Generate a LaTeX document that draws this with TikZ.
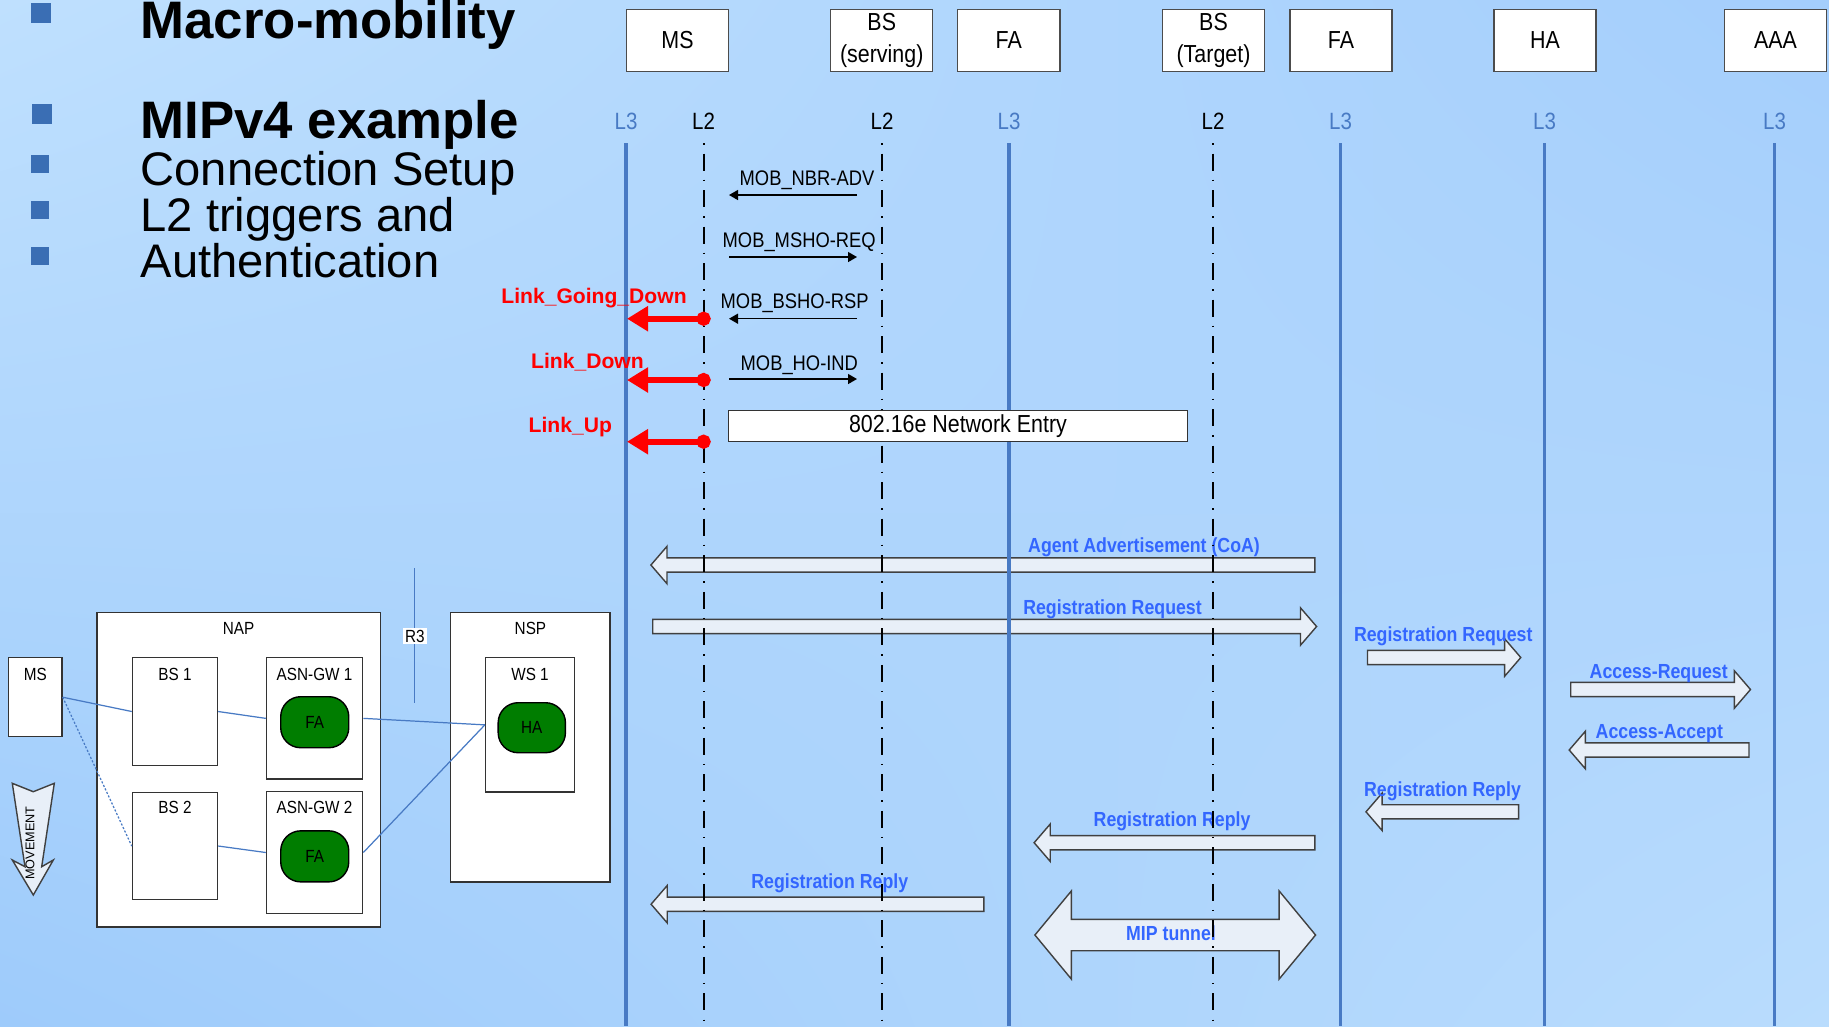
\documentclass[tikz,border=0pt]{standalone}
\usepackage{fontspec}
\setmainfont{Liberation Sans}
\newfontfamily\narrowfont[FakeStretch=0.87]{Liberation Sans}
\usetikzlibrary{arrows.meta, positioning, shapes.arrows, shadings}

\definecolor{lifeblue}{RGB}{72,122,196}
\definecolor{msgblue}{RGB}{51,102,255}
\definecolor{arrowfill}{RGB}{232,239,248}
\definecolor{bulletblue}{RGB}{58,110,180}
\definecolor{fagreen}{RGB}{0,125,0}
\definecolor{bgul}{RGB}{191,224,254}
\definecolor{bgur}{RGB}{164,206,252}
\definecolor{bgll}{RGB}{158,203,251}
\definecolor{bglr}{RGB}{185,220,253}

\begin{document}
\begin{tikzpicture}[
x=0.01cm, y=-0.01cm,
titlebold/.style={font={\bfseries\fontsize{15}{18}\selectfont}, inner sep=0pt, anchor=base west},
titleplain/.style={font={\fontsize{13.4}{16}\selectfont}, inner sep=0pt, anchor=base west},
hdr/.style={rectangle, draw=black!70, fill=white, minimum width=1.02cm, minimum height=0.62cm, align=center, inner sep=0pt, font={\narrowfont\fontsize{7}{9}\selectfont}},
layer/.style={font={\narrowfont\fontsize{6.7}{8}\selectfont}, inner sep=0pt},
l3line/.style={draw=lifeblue, line width=0.035cm},
l2line/.style={draw=black, line width=0.02cm, dash pattern=on 0.015cm off 0.09cm on 0.17cm off 0.09cm},
msg/.style={-{Triangle[length=0.09cm, width=0.1cm]}, line width=0.4pt},
msglbl/.style={font={\narrowfont\fontsize{6}{7}\selectfont}, inner sep=0pt, anchor=base west},
trig/.style={arrows={Circle[length=0.14cm]-Triangle[length=0.21cm, width=0.24cm]}, draw=red, line width=0.06cm},
redlbl/.style={text=red, font={\bfseries\fontsize{6}{7}\selectfont}, inner sep=0pt, anchor=base west},
blockarrow/.style={single arrow, draw=black!75, fill=arrowfill, line width=0.4pt, inner sep=0pt, inner ysep=0.064cm, single arrow head extend=0.116cm, single arrow tip angle=98.5, anchor=tail},
leftarrow/.style={blockarrow, shape border rotate=180},
blocklbl/.style={text=msgblue, font={\narrowfont\bfseries\fontsize{5.8}{7}\selectfont}, inner sep=0pt, anchor=base west},
netbox/.style={rectangle, draw=black!80, fill=white, line width=0.4pt, inner sep=0pt},
netlbl/.style={font={\narrowfont\fontsize{5}{6}\selectfont}},
agent/.style={rectangle, rounded corners=0.2cm, draw=black, fill=fagreen, minimum width=0.68cm, minimum height=0.51cm, inner sep=0pt, font={\narrowfont\fontsize{5}{6}\selectfont}},
netlink/.style={draw=lifeblue, line width=0.35pt}
]

\useasboundingbox (0,0) rectangle (1829,1026);
\shade[upper left=bgul, upper right=bgur, lower left=bgll, lower right=bglr] (0,0) rectangle (1829,1026);

% title bullets
\fill[bulletblue] (31,2.5) rectangle (51,22.5);
\fill[bulletblue] (32,104) rectangle (52,124);
\node[titlebold] (macro) at (140,38.5) {Macro-mobility};
\node[titlebold] (mipv4) at (140,138) {MIPv4 example};
\foreach \y/\txt [count=\i] in {185/Connection Setup, 231/L2 triggers and, 277/Authentication}{
  \fill[bulletblue] (31,\y-30) rectangle (49,\y-12);
  \node[titleplain] (sub\i) at (140,\y) {\txt};
}

% entities
\node[hdr] (ms) at (677.5,40.5) {MS};
\node[hdr] (bss) at (881.75,40.5) {BS\\(serving)};
\node[hdr] (fas) at (1008.8,40.5) {FA};
\node[hdr] (bst) at (1213.5,40.5) {BS\\(Target)};
\node[hdr] (fat) at (1341,40.5) {FA};
\node[hdr] (ha) at (1545,40.5) {HA};
\node[hdr] (aaa) at (1775.5,40.5) {AAA};

\foreach \name/\x in {ms/626, fas/1009, fat/1340.5, ha/1544.5, aaa/1774.5}{
  \node[layer, text=lifeblue] (l3\name) at (\x,121.7) {L3};
  \coordinate (t3\name) at (\x,143);
  \coordinate (b3\name) at (\x,1026);
}
\foreach \name/\x in {ms/703.5, bss/882, bst/1213}{
  \node[layer] (l2\name) at (\x,121.7) {L2};
  \coordinate (t2\name) at (\x,143);
  \coordinate (b2\name) at (\x,1026);
}

% MIP signalling
\node[leftarrow, minimum height=6.635cm] (aadv) at (1315.5,565) {};
\node[blockarrow, minimum height=6.635cm] (rreq1) at (652,626.5) {};
\node[blockarrow, minimum height=1.532cm] (rreq2) at (1366.8,657.5) {};
\node[blockarrow, minimum height=1.797cm] (acreq) at (1570,689.5) {};
\node[leftarrow, minimum height=1.797cm] (acacc) at (1749.7,750) {};
\node[leftarrow, minimum height=1.525cm] (rrep1) at (1519.3,811.8) {};
\node[leftarrow, minimum height=2.805cm] (rrep2) at (1315.5,842.7) {};
\node[leftarrow, minimum height=3.326cm] (rrep3) at (984.6,904.2) {};
\node[double arrow, draw=black!75, fill=arrowfill, line width=0.4pt, inner sep=0pt, inner ysep=0.15cm,
      double arrow head extend=0.283cm, double arrow tip angle=100.8, minimum height=2.805cm] (miptun) at (1175.25,935) {};

\node[blocklbl] (aadvtxt) at (1027.5,552.7) {Agent Advertisement (CoA)};
\node[blocklbl] (rreq1txt) at (1022.6,614) {Registration Request};
\node[blocklbl] (rreq2txt) at (1353.3,641.7) {Registration Request};
\node[blocklbl] (acreqtxt) at (1589,678.3) {Access-Request};
\node[blocklbl] (acacctxt) at (1595,738.3) {Access-Accept};
\node[blocklbl] (rrep1txt) at (1363.4,796.7) {Registration Reply};
\node[blocklbl] (rrep2txt) at (1093,826) {Registration Reply};
\node[blocklbl] (rrep3txt) at (750.7,888.3) {Registration Reply};
\node[blocklbl, anchor=base] (miptxt) at (1171,940.7) {MIP tunnel};

% lifelines
\foreach \name in {ms, fas, fat, ha, aaa}
  \draw[l3line] (t3\name) -- (b3\name);
\foreach \name in {ms, bss, bst}
  \draw[l2line] (t2\name) -- (b2\name);

\node[rectangle, draw=black!80, fill=white, line width=0.4pt, minimum width=4.59cm, minimum height=0.31cm, inner sep=0pt,
      font={\narrowfont\fontsize{7}{8}\selectfont}] (netentry) at (958,426.2) {802.16e Network Entry};

% 802.16e messages
\foreach \y/\xa/\xb in {195/857/729, 257/729/857, 318.7/857/729, 379/729/857}
  \draw[msg] (\xa,\y) -- (\xb,\y);
\node[msglbl] (nbradv) at (739,185) {MOB\_NBR-ADV};
\node[msglbl] (mshoreq) at (722,247) {MOB\_MSHO-REQ};
\node[msglbl] (bshorsp) at (720,308) {MOB\_BSHO-RSP};
\node[msglbl] (hoind) at (740,370) {MOB\_HO-IND};

% L2 triggers
\foreach \y in {318.7, 380, 441.7}
  \draw[trig] (710.6,\y) -- (627,\y);
\node[redlbl] (lgd) at (500.7,303) {Link\_Going\_Down};
\node[redlbl] (ld) at (530.5,368) {Link\_Down};
\node[redlbl] (lu) at (528,432.7) {Link\_Up};

% network sketch
\node[netbox, minimum width=0.533cm, minimum height=0.79cm, label={[netlbl, anchor=center, yshift=-0.17cm]north:MS}] (msn) at (35.35,697.2) {};
\node[netbox, minimum width=2.835cm, minimum height=3.14cm, label={[netlbl, anchor=center, yshift=-0.17cm]north:NAP}] (nap) at (238.65,769.7) {};
\node[netbox, minimum width=0.85cm, minimum height=1.076cm, label={[netlbl, anchor=center, yshift=-0.17cm]north:BS 1}] (bs1) at (175,711.5) {};
\node[netbox, minimum width=0.961cm, minimum height=1.213cm, label={[netlbl, anchor=center, yshift=-0.17cm]north:ASN-GW 1}] (gw1) at (314.55,718.35) {};
\node[agent] (fa1) at (314.75,722.2) {FA};
\node[netbox, minimum width=0.85cm, minimum height=1.074cm, label={[netlbl, anchor=center, yshift=-0.16cm]north:BS 2}] (bs2) at (175,846) {};
\node[netbox, minimum width=0.961cm, minimum height=1.216cm, label={[netlbl, anchor=center, yshift=-0.166cm]north:ASN-GW 2}] (gw2) at (314.55,852.5) {};
\node[agent] (fa2) at (314.75,856.35) {FA};
\node[netbox, minimum width=1.593cm, minimum height=2.694cm, label={[netlbl, anchor=center, yshift=-0.17cm]north:NSP}] (nsp) at (530.45,747) {};
\node[netbox, minimum width=0.889cm, minimum height=1.343cm, label={[netlbl, anchor=center, yshift=-0.17cm]north:WS 1}] (ws1) at (530.05,724.85) {};
\node[agent, minimum width=0.672cm, minimum height=0.5cm] (ha1) at (531.8,727.7) {HA};

\draw[netlink] (msn.east) -- (bs1.west);
\draw[netlink, dash pattern=on 0.6pt off 0.5pt] (msn.east) -- (bs2.west);
\draw[netlink] (bs1.east) -- (gw1.west);
\draw[netlink] (bs2.east) -- (gw2.west);
\draw[netlink] (gw1.east) -- (ws1.west);
\draw[netlink] (gw2.east) -- (ws1.west);

\coordinate (r3top) at (414.8,568.3);
\coordinate (r3bot) at (414.8,702.7);
\draw[netlink] (r3top) -- (r3bot);
\node[netlbl, fill=white, inner sep=0.02cm] (r3) at (414.8,636) {R3};

% movement
\draw[draw=black!75, fill=arrowfill, line width=0.4pt]
  (12.3,783.3) -- (33.3,791.7) -- (54.3,783.3) -- (41.7,866.7) -- (53.3,860) -- (33.3,895)
  -- (12.3,860) -- (25,866.7) -- cycle;
\node[rotate=90, inner sep=0pt, font={\fontsize{3.6}{4}\selectfont}] (move) at (30,843) {MOVEMENT};

\end{tikzpicture}
\end{document}
